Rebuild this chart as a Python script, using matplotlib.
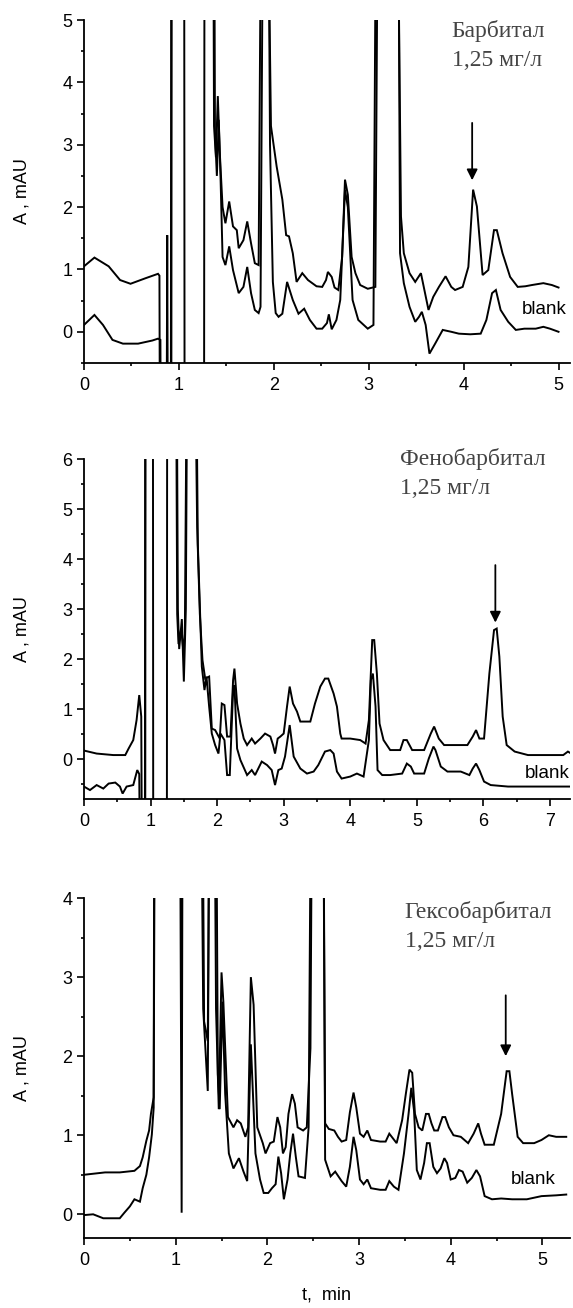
import matplotlib
matplotlib.use("Agg")
import matplotlib.pyplot as plt
from matplotlib.ticker import MultipleLocator

# chromatograms: (t, min ; A, mAU); values beyond the axes are off-scale peaks
barb_sample = [(0, 1.05), (0.11, 1.19), (0.26, 1.05), (0.38, 0.83), (0.49, 0.77), (0.65, 0.86), (0.78, 0.93),
               (0.795, 0.9), (0.80, -2), (0.87, -2), (0.877, 1.55), (0.884, -2), (0.915, -2), (0.92, 8),
               (1.055, 8), (1.06, -2), (1.265, -2), (1.27, 8), (1.36, 8), (1.37, 3.3), (1.39, 2.8), (1.41, 3.78),
               (1.43, 2.9), (1.46, 2.0), (1.49, 1.74), (1.53, 2.09), (1.57, 1.69), (1.61, 1.63), (1.63, 1.34),
               (1.68, 1.47), (1.72, 1.77), (1.76, 1.42), (1.80, 1.1), (1.84, 1.07), (1.87, 8), (1.93, 8),
               (1.97, 3.3), (2.03, 2.65), (2.09, 2.12), (2.13, 1.55), (2.16, 1.53), (2.20, 1.26), (2.24, 0.8),
               (2.30, 0.94), (2.36, 0.83), (2.45, 0.73), (2.51, 0.72), (2.55, 0.83), (2.57, 0.96), (2.61, 0.88),
               (2.64, 0.71), (2.68, 0.67), (2.72, 1.2), (2.75, 2.44), (2.78, 2.2), (2.82, 1.2), (2.86, 0.94),
               (2.91, 0.75), (2.99, 0.69), (3.07, 0.72), (3.10, 8), (3.30, 8), (3.34, 1.85), (3.37, 1.26),
               (3.43, 0.94), (3.49, 0.8), (3.55, 0.94), (3.58, 0.72), (3.63, 0.35), (3.68, 0.56), (3.74, 0.72),
               (3.81, 0.89), (3.87, 0.72), (3.91, 0.67), (3.99, 0.72), (4.05, 1.04), (4.10, 2.28), (4.14, 2.01),
               (4.20, 0.91), (4.26, 0.99), (4.32, 1.63), (4.35, 1.63), (4.41, 1.26), (4.49, 0.88), (4.57, 0.72),
               (4.65, 0.73), (4.72, 0.75), (4.84, 0.78), (4.93, 0.75), (5.0, 0.71)]
barb_blank = [(0, 0.11), (0.11, 0.27), (0.2, 0.11), (0.30, -0.13), (0.41, -0.19), (0.57, -0.19), (0.72, -0.14),
              (0.78, -0.11), (0.805, -0.13), (0.81, -2), (0.92, -2), (0.925, 8), (1.37, 8), (1.38, 3.2),
              (1.40, 2.5), (1.42, 3.4), (1.44, 2.4), (1.46, 1.2), (1.49, 1.07), (1.53, 1.37), (1.57, 0.99),
              (1.63, 0.62), (1.68, 0.72), (1.72, 1.04), (1.76, 0.62), (1.80, 0.35), (1.84, 0.3), (1.86, 0.4),
              (1.89, 8), (1.94, 8), (1.96, 3.0), (1.99, 0.8), (2.02, 0.3), (2.05, 0.24), (2.09, 0.29),
              (2.14, 0.8), (2.2, 0.51), (2.26, 0.29), (2.32, 0.37), (2.38, 0.19), (2.45, 0.05), (2.51, 0.05),
              (2.56, 0.14), (2.58, 0.28), (2.61, 0.04), (2.66, 0.19), (2.70, 0.51), (2.75, 2.28), (2.78, 2.0),
              (2.83, 0.51), (2.89, 0.19), (2.99, 0.05), (3.05, 0.11), (3.08, 8), (3.31, 8), (3.33, 1.26),
              (3.37, 0.78), (3.43, 0.4), (3.49, 0.16), (3.53, 0.24), (3.56, 0.32), (3.60, 0.11), (3.64, -0.35),
              (3.70, -0.19), (3.78, 0.03), (3.87, 0.0), (3.95, -0.03), (4.07, -0.04), (4.18, -0.03), (4.24, 0.19),
              (4.30, 0.62), (4.34, 0.67), (4.39, 0.35), (4.47, 0.16), (4.55, 0.03), (4.64, 0.05), (4.76, 0.05),
              (4.84, 0.08), (4.91, 0.05), (5.0, 0.0)]

pheno_sample = [(0, 0.17), (0.19, 0.11), (0.44, 0.08), (0.62, 0.08), (0.67, 0.21), (0.74, 0.38), (0.79, 0.78),
                (0.83, 1.28), (0.86, 0.85), (0.87, -2), (0.915, -2), (0.92, 9), (1.035, 9), (1.04, -2),
                (1.245, -2), (1.25, 9), (1.39, 9), (1.41, 3.0), (1.43, 2.2), (1.47, 2.8), (1.50, 1.55),
                (1.53, 3.0), (1.555, 9), (1.66, 9), (1.70, 4.65), (1.74, 2.91), (1.78, 1.98), (1.82, 1.61),
                (1.88, 1.65), (1.92, 0.61), (1.97, 0.58), (2.04, 0.41), (2.07, 1.11), (2.11, 1.08), (2.15, 0.45),
                (2.20, 0.45), (2.24, 1.58), (2.26, 1.81), (2.30, 1.11), (2.35, 0.71), (2.40, 0.41), (2.45, 0.28),
                (2.52, 0.41), (2.57, 0.31), (2.65, 0.41), (2.72, 0.51), (2.80, 0.45), (2.84, 0.28), (2.87, 0.11),
                (2.91, 0.41), (2.95, 0.45), (3.0, 0.51), (3.05, 1.05), (3.09, 1.45), (3.14, 1.11), (3.20, 0.95),
                (3.25, 0.75), (3.40, 0.75), (3.47, 1.11), (3.55, 1.45), (3.62, 1.61), (3.67, 1.61), (3.75, 1.31),
                (3.80, 1.05), (3.85, 0.51), (3.87, 0.41), (4.0, 0.41), (4.15, 0.38), (4.23, 0.31), (4.28, 0.78),
                (4.33, 2.38), (4.36, 2.38), (4.40, 1.71), (4.44, 0.71), (4.50, 0.38), (4.60, 0.18), (4.75, 0.18),
                (4.80, 0.38), (4.85, 0.38), (4.93, 0.18), (5.11, 0.18), (5.21, 0.51), (5.26, 0.65), (5.33, 0.41),
                (5.41, 0.28), (5.56, 0.28), (5.76, 0.28), (5.84, 0.45), (5.89, 0.58), (5.94, 0.41), (6.01, 0.41),
                (6.09, 1.71), (6.16, 2.58), (6.20, 2.61), (6.24, 2.05), (6.29, 0.85), (6.35, 0.28), (6.47, 0.15),
                (6.67, 0.08), (7.07, 0.08), (7.20, 0.08), (7.27, 0.15), (7.32, 0.11)]
pheno_blank = [(0, -0.55), (0.09, -0.62), (0.19, -0.52), (0.29, -0.59), (0.37, -0.49), (0.47, -0.47), (0.54, -0.55),
               (0.58, -0.69), (0.64, -0.55), (0.74, -0.52), (0.80, -0.22), (0.83, -0.3), (0.84, -2), (0.92, -2),
               (0.925, 9), (1.38, 9), (1.40, 2.9), (1.42, 2.3), (1.46, 2.6), (1.49, 2.2), (1.515, 2.5), (1.55, 9),
               (1.68, 9), (1.71, 4.3), (1.77, 1.85), (1.81, 1.38), (1.84, 1.65), (1.88, 1.05), (1.92, 0.51),
               (1.97, 0.28), (2.02, 0.11), (2.05, 0.51), (2.11, 0.38), (2.15, -0.32), (2.19, -0.32), (2.24, 1.38),
               (2.26, 1.48), (2.30, 0.21), (2.35, -0.02), (2.45, -0.32), (2.52, -0.22), (2.57, -0.32),
               (2.67, -0.05), (2.75, -0.12), (2.82, -0.22), (2.87, -0.52), (2.92, -0.22), (2.97, -0.19),
               (3.02, 0.05), (3.09, 0.68), (3.15, 0.05), (3.25, -0.19), (3.35, -0.29), (3.45, -0.25), (3.52, -0.12),
               (3.62, 0.15), (3.70, 0.18), (3.75, 0.11), (3.80, -0.25), (3.87, -0.39), (4.0, -0.35), (4.10, -0.29),
               (4.20, -0.35), (4.28, 0.38), (4.31, 1.58), (4.34, 1.71), (4.38, 1.05), (4.41, -0.22), (4.48, -0.32),
               (4.60, -0.32), (4.78, -0.29), (4.85, -0.09), (4.91, -0.15), (4.96, -0.29), (5.11, -0.29),
               (5.18, 0.01), (5.25, 0.25), (5.28, 0.18), (5.36, -0.15), (5.46, -0.25), (5.66, -0.25), (5.79, -0.32),
               (5.84, -0.19), (5.89, -0.09), (5.94, -0.22), (6.01, -0.45), (6.11, -0.52), (6.37, -0.55),
               (6.82, -0.55), (7.32, -0.55)]

hexo_sample = [(0, 0.5), (0.23, 0.53), (0.39, 0.53), (0.55, 0.55), (0.61, 0.61), (0.64, 0.72), (0.68, 0.93),
               (0.71, 1.06), (0.73, 1.27), (0.76, 1.48), (0.78, 8), (1.26, 8), (1.30, 2.6), (1.35, 1.56),
               (1.38, 8), (1.41, 8), (1.44, 2.6), (1.47, 1.33), (1.50, 3.06), (1.52, 2.69), (1.57, 1.23),
               (1.63, 1.1), (1.67, 1.19), (1.71, 1.15), (1.76, 0.98), (1.79, 1.1), (1.82, 3.0), (1.85, 2.65),
               (1.89, 1.1), (1.95, 0.9), (1.98, 0.77), (2.03, 0.9), (2.07, 0.92), (2.11, 1.23), (2.14, 1.1),
               (2.17, 0.77), (2.20, 0.85), (2.23, 1.27), (2.27, 1.52), (2.30, 1.4), (2.33, 1.1), (2.39, 1.06),
               (2.43, 1.1), (2.47, 2.1), (2.50, 8), (2.60, 8), (2.63, 1.15), (2.67, 1.08), (2.73, 1.06),
               (2.77, 0.98), (2.81, 0.92), (2.86, 0.94), (2.90, 1.29), (2.94, 1.54), (2.97, 1.35), (3.01, 1.02),
               (3.05, 0.98), (3.09, 1.06), (3.13, 0.94), (3.23, 0.92), (3.29, 0.92), (3.33, 1.02), (3.37, 0.96),
               (3.41, 0.9), (3.47, 1.19), (3.51, 1.52), (3.55, 1.83), (3.58, 1.79), (3.61, 1.27), (3.65, 1.1),
               (3.69, 1.06), (3.73, 1.27), (3.76, 1.27), (3.79, 1.15), (3.82, 1.06), (3.86, 1.06), (3.91, 1.23),
               (3.94, 1.23), (3.98, 1.1), (4.03, 1.0), (4.11, 0.98), (4.19, 0.9), (4.25, 1.02), (4.30, 1.15),
               (4.33, 1.02), (4.37, 0.88), (4.47, 0.88), (4.55, 1.27), (4.61, 1.81), (4.64, 1.81), (4.67, 1.52),
               (4.73, 0.98), (4.79, 0.9), (4.91, 0.9), (4.99, 0.94), (5.07, 1.0), (5.15, 0.98), (5.26, 0.98)]
hexo_blank = [(0, -0.01), (0.10, 0.0), (0.21, -0.05), (0.39, -0.05), (0.44, 0.02), (0.50, 0.1), (0.55, 0.19),
              (0.61, 0.16), (0.64, 0.33), (0.68, 0.5), (0.71, 0.72), (0.74, 1.01), (0.76, 1.35), (0.77, 8),
              (1.04, 8), (1.065, 0.02), (1.08, 8), (1.28, 8), (1.31, 2.44), (1.35, 2.19), (1.38, 8), (1.43, 8),
              (1.46, 1.77), (1.48, 1.33), (1.51, 2.69), (1.54, 1.52), (1.58, 0.77), (1.63, 0.58), (1.69, 0.71),
              (1.74, 0.54), (1.78, 0.42), (1.82, 2.15), (1.87, 0.77), (1.92, 0.44), (1.96, 0.27), (2.01, 0.27),
              (2.05, 0.33), (2.09, 0.38), (2.12, 0.73), (2.15, 0.52), (2.18, 0.19), (2.22, 0.44), (2.25, 0.77),
              (2.28, 1.02), (2.31, 0.73), (2.34, 0.48), (2.41, 0.46), (2.45, 1.1), (2.49, 8), (2.60, 8),
              (2.63, 0.69), (2.69, 0.48), (2.74, 0.54), (2.81, 0.42), (2.86, 0.35), (2.90, 0.6), (2.94, 0.98),
              (2.97, 0.81), (3.01, 0.44), (3.05, 0.38), (3.09, 0.44), (3.13, 0.33), (3.23, 0.31), (3.29, 0.31),
              (3.33, 0.42), (3.38, 0.35), (3.43, 0.31), (3.49, 0.77), (3.54, 1.27), (3.57, 1.6), (3.60, 1.31),
              (3.63, 0.56), (3.67, 0.44), (3.71, 0.65), (3.74, 0.9), (3.77, 0.9), (3.81, 0.6), (3.85, 0.52),
              (3.89, 0.58), (3.93, 0.71), (3.96, 0.65), (4.00, 0.44), (4.05, 0.46), (4.09, 0.56), (4.13, 0.54),
              (4.18, 0.4), (4.23, 0.46), (4.28, 0.56), (4.32, 0.48), (4.37, 0.23), (4.45, 0.19), (4.55, 0.2),
              (4.67, 0.19), (4.83, 0.19), (4.99, 0.23), (5.15, 0.24), (5.26, 0.25)]

titles = ["Барбитал\n1,25 мг/л", "Фенобарбитал\n1,25 мг/л", "Гексобарбитал\n1,25 мг/л"]
xlims = [(0, 5.12), (0, 7.3), (0, 5.3)]
ylims = [(-0.5, 5), (-0.8, 6), (-0.3, 4)]
arrows = [(4.09, 3.35, 2.43), (6.18, 3.88, 2.73), (4.60, 2.77, 2.0)]   # t, tail, tip
blank_pos = [(4.61, 0.35), (6.62, -0.28), (4.66, 0.44)]
title_xy = [(0.757, 1.0), (0.65, 1.032), (0.66, 0.99)]

plt.rcParams['font.family'] = ['Liberation Sans', 'DejaVu Sans']

fig = plt.figure(figsize=(5.73, 13.08), dpi=100)
rects = [[0.1466, 0.7225, 0.848, 0.2622],
         [0.1466, 0.3891, 0.848, 0.2599],
         [0.1466, 0.0535, 0.848, 0.2599]]

data = [(barb_sample, barb_blank), (pheno_sample, pheno_blank), (hexo_sample, hexo_blank)]

for i, (sample, blank) in enumerate(data):
    ax = fig.add_axes(rects[i])
    for trace in (sample, blank):
        t = [p[0] for p in trace]
        v = [p[1] for p in trace]
        ax.plot(t, v, color='black', lw=1.4, solid_joinstyle='miter')
    ax.set_xlim(*xlims[i])
    ax.set_ylim(*ylims[i])
    for s in ['top', 'right']:
        ax.spines[s].set_visible(False)
    for s in ['left', 'bottom']:
        ax.spines[s].set_linewidth(1.3)
    ax.xaxis.set_major_locator(MultipleLocator(1))
    ax.xaxis.set_minor_locator(MultipleLocator(0.5))
    ax.yaxis.set_major_locator(MultipleLocator(1))
    ax.yaxis.set_minor_locator(MultipleLocator(0.5))
    ax.tick_params(which='major', direction='out', length=5, width=1.2, labelsize=13)
    ax.tick_params(axis='x', which='major', pad=5)
    ax.tick_params(which='minor', direction='out', length=2.5, width=1.2)
    ax.set_ylabel("A , mAU", fontsize=13)
    ax.yaxis.set_label_coords(-0.111, 0.5)

    ta, y0, y1 = arrows[i]
    ax.annotate('', xy=(ta, y1), xytext=(ta, y0),
                arrowprops=dict(arrowstyle='-|>', color='black', lw=1.3,
                                mutation_scale=16, shrinkA=0, shrinkB=0))
    bx, by = blank_pos[i]
    ax.text(bx, by, "blank", fontsize=13.5, va='center', ha='left', clip_on=False)
    tx, ty = title_xy[i]
    ax.text(tx, ty, titles[i], transform=ax.transAxes, fontsize=17,
            family=['Liberation Serif', 'DejaVu Serif'], color='#444444',
            va='top', ha='left', linespacing=1.5)

    if i == 2:
        ax.set_xlabel("t,  min", fontsize=13, labelpad=13)

fig.savefig("out.png", dpi=100)
